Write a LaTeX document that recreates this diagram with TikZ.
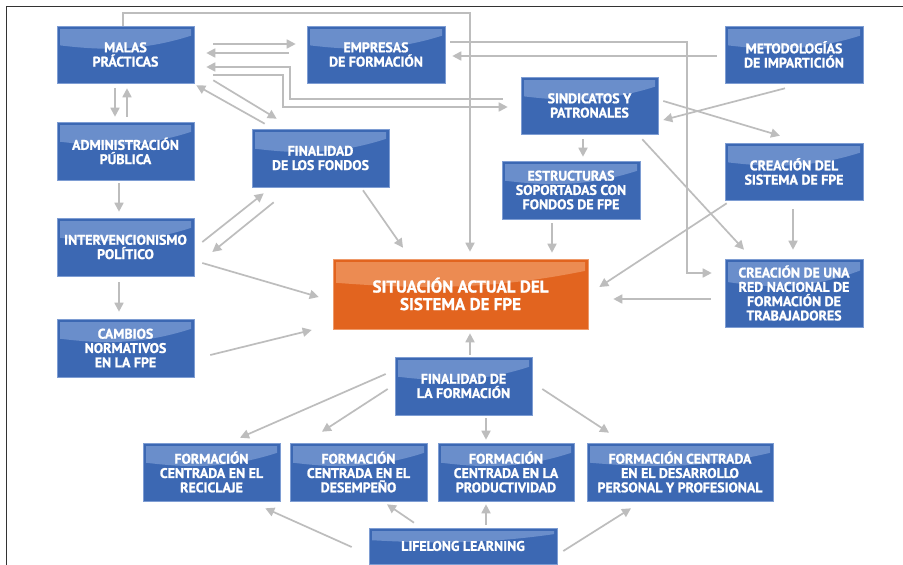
\documentclass[tikz,border=0pt]{standalone}
\usepackage{fontspec}
\setmainfont{PT Sans}[BoldFeatures={FakeBold=1.2}]
\usetikzlibrary{calc,arrows.meta}
\definecolor{boxblue}{HTML}{3C68B3}
\definecolor{boxhl}{HTML}{6A8ECB}
\definecolor{boxedge}{HTML}{7E9DD3}
\definecolor{boxorange}{HTML}{E2641F}
\definecolor{orangehl}{HTML}{EC8B52}
\definecolor{orangeedge}{HTML}{EE9A6A}
\definecolor{arrgray}{HTML}{BDBDBD}
\definecolor{framecol}{HTML}{333333}
\tikzset{
  gloss/.style={path picture={
    \fill[#1] let \p1=(path picture bounding box.north west),
                  \p2=(path picture bounding box.south east),
                  \n1={\y1-\y2}, \n2={\x2-\x1} in
      ({\x1+3pt},{\y1-3pt}) -- ({\x2-3pt},{\y1-3pt}) -- ({\x2-3pt},{\y1-0.17*\n1})
      .. controls ({\x1+0.6*\n2},{\y1-0.46*\n1}) and ({\x1+0.3*\n2},{\y1-0.42*\n1}) ..
      ({\x1+3pt},{\y1-0.34*\n1}) -- cycle;}},
  bluebox/.style={fill=boxblue, draw=boxedge, line width=0.6pt, gloss=boxhl,
    text=white, font=\bfseries\fontsize{13.9}{14.3}\selectfont, align=center,
    inner sep=0pt, minimum width=137pt, minimum height=57pt},
  orangebox/.style={fill=boxorange, draw=orangeedge, line width=0.6pt, gloss=orangehl,
    text=white, font=\bfseries\fontsize{17}{17.5}\selectfont, align=center,
    inner sep=0pt},
  arr/.style={draw=arrgray, line width=1.7pt, -{Triangle[length=9pt,width=9pt]}},
}
\begin{document}
\begin{tikzpicture}[x=1pt,y=-1pt]
\useasboundingbox (0,0) rectangle (903,565);
\fill[white] (0,0) rectangle (903,565);
\draw[framecol, line width=1.6pt] (6.5,566) -- (6.5,6.5) -- (904,6.5);

% nodes
\node[bluebox] (mp) at (125.5,54.5) {MALAS\\PRÁCTICAS};
\node[bluebox, minimum width=138pt] (emp) at (376,54.5) {EMPRESAS\\DE FORMACIÓN};
\node[bluebox, minimum width=138pt] (met) at (794,54.5) {METODOLOGÍAS\\DE IMPARTICIÓN};
\node[bluebox] (sin) at (589.5,105.5) {SINDICATOS Y\\PATRONALES};
\node[bluebox, minimum height=58pt] (adm) at (125.5,151) {ADMINISTRACIÓN\\PÚBLICA};
\node[bluebox, minimum height=58pt] (ffo) at (320.5,158) {FINALIDAD\\DE LOS FONDOS};
\node[bluebox, minimum width=138pt, minimum height=58pt] (est) at (571,190) {ESTRUCTURAS\\SOPORTADAS CON\\FONDOS DE FPE};
\node[bluebox, minimum width=138pt] (cre) at (794,171.5) {CREACIÓN DEL\\SISTEMA DE FPE};
\node[bluebox, minimum height=58pt] (int) at (125.5,247) {INTERVENCIONISMO\\POLÍTICO};
\node[bluebox, minimum height=58pt] (cam) at (125.5,348) {CAMBIOS\\NORMATIVOS\\EN LA FPE};
\node[orangebox, minimum width=255pt, minimum height=70pt] (sit) at (460.5,294) {SITUACIÓN ACTUAL DEL\\SISTEMA DE FPE};
\node[bluebox, minimum width=138pt, minimum height=68pt] (red) at (794,293) {CREACIÓN DE UNA\\RED NACIONAL DE\\FORMACIÓN DE\\TRABAJADORES};
\node[bluebox, minimum height=58pt] (ffm) at (463.5,386) {FINALIDAD DE\\LA FORMACIÓN};
\node[bluebox, minimum height=58pt] (rec) at (211.5,472) {FORMACIÓN\\CENTRADA EN EL\\RECICLAJE};
\node[bluebox, minimum height=58pt] (des) at (358.5,472) {FORMACIÓN\\CENTRADA EN EL\\DESEMPEÑO};
\node[bluebox, minimum width=136pt, minimum height=58pt] (pro) at (506,472) {FORMACIÓN\\CENTRADA EN LA\\PRODUCTIVIDAD};
\node[bluebox, minimum width=186pt, minimum height=58pt] (dpp) at (680,472) {FORMACIÓN CENTRADA\\EN EL DESARROLLO\\PERSONAL Y PROFESIONAL};
\node[bluebox, minimum width=188pt, minimum height=36pt] (lll) at (463,546) {LIFELONG LEARNING};

% connectors
\draw[arr] ($(mp.north)+(-2.5,0)$) -- ++(0,-13) -| ($(sit.north)+(9.5,-7)$);
\draw[arr] ($(mp.east)+(19,-10.5)$) -- ($(emp.west)+(-11,-10.5)$);
\draw[arr] ($(emp.west)+(-18,-1.5)$) -- ($(mp.east)+(12,-1.5)$);
\draw[arr] ($(emp.east)+(5,-12.5)$) -| ($(red.west)+(-38,-20)$) -- ($(red.west)+(-13,-20)$);
\draw[arr] ($(met.west)+(-8,1.5)$) -- ($(emp.east)+(7,1.5)$);
\draw[arr] ($(sin.west)+(-18,-6.5)$) -| ($(mp.east)+(96,12.5)$) -- ($(mp.east)+(12,12.5)$);
\draw[arr] ($(mp.east)+(19,20.5)$) -| ($(sin.west)+(-238,1.5)$) -- ($(sin.west)+(-13,1.5)$);
\draw[arr] ($(ffo.north west)+(13,-5)$) -- ($(mp.south east)+(2,2)$);
\draw[arr] ($(mp.south east)+(19,-3)$) -- ($(ffo.north west)+(25,-10)$);
\draw[arr] ($(mp.south)+(-10.5,5)$) -- ($(adm.north)+(-10.5,-5)$);
\draw[arr] ($(adm.north)+(1.5,-5)$) -- ($(mp.south)+(1.5,5)$);
\draw[arr] ($(adm.south)+(-6.5,3)$) -- ($(int.north)+(-6.5,-6)$);
\draw[arr] ($(int.south)+(-6.5,6)$) -- ($(cam.north)+(-6.5,-7)$);
\draw[arr] ($(int.east)+(8,-5)$) -- ($(ffo.south west)+(12,6)$);
\draw[arr] ($(ffo.south west)+(22,15)$) -- ($(int.east)+(18,5)$);
\draw[arr] ($(int.east)+(8,16)$) -- ($(sit.west)+(-14,3)$);
\draw[arr] ($(cam.east)+(16,7)$) -- ($(sit.west)+(-21,36)$);
\draw[arr] ($(ffo.south)+(42.5,3)$) -- ($(sit.north)+(-57.5,-11)$);
\draw[arr] ($(sin.south)+(-6.5,5)$) -- ($(est.north)+(12,-4)$);
\draw[arr] ($(est.south)+(-19,4)$) -- ($(sit.north)+(91.5,-6)$);
\draw[arr] ($(met.south)+(-9,5)$) -- ($(sin.east)+(5,14.5)$);
\draw[arr] ($(sin.east)+(5,-4.5)$) -- ($(cre.north)+(-14,-7)$);
\draw[arr] ($(sin.south east)+(-16,5)$) -- ($(red.north)+(-50,-9)$);
\draw[arr] ($(cre.south west)+(2,3)$) -- ($(sit.east)+(11,-7)$);
\draw[arr] ($(cre.south)+(-1,9)$) -- ($(red.north)+(-1,-9)$);
\draw[arr] ($(red.west)+(-14,6)$) -- ($(sit.east)+(25,5)$);
\draw[arr] ($(ffm.north)+(6.5,-2)$) -- ($(sit.south)+(9.5,4)$);
\draw[arr] ($(ffm.west)+(-9,-12)$) -- ($(rec.north)+(28.5,-5)$);
\draw[arr] ($(ffm.west)+(-7,3)$) -- ($(des.north)+(-36.5,-11)$);
\draw[arr] ($(ffm.south)+(22.5,3)$) -- ($(pro.north)+(-20,-3)$);
\draw[arr] ($(ffm.east)+(10,3)$) -- ($(dpp.north)+(-71,-10)$);
\draw[arr] ($(lll.west)+(-17,1)$) -- ($(rec.south east)+(-15,7)$);
\draw[arr] ($(lll.north)+(-49,-5)$) -- ($(des.south)+(28.5,3)$);
\draw[arr] ($(lll.north)+(23,-3)$) -- ($(pro.south)+(-20,3)$);
\draw[arr] ($(lll.east)+(6,5)$) -- ($(dpp.south)+(-49,7)$);
\end{tikzpicture}
\end{document}
